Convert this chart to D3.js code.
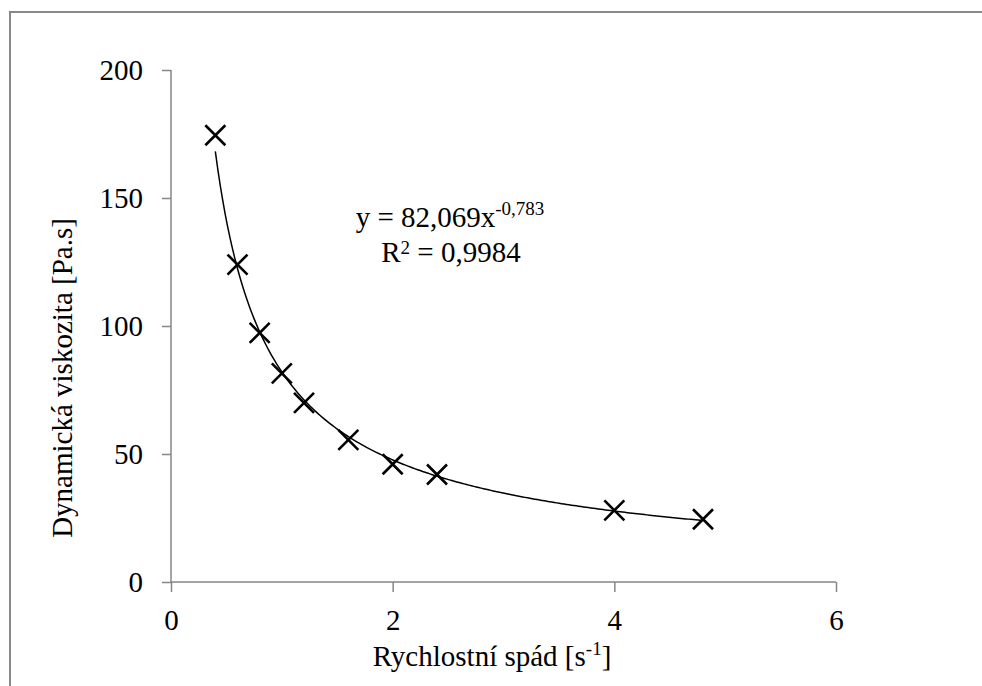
<!DOCTYPE html>
<html lang="cs">
<head>
<meta charset="UTF-8">
<title>Dynamická viskozita</title>
<script src="https://cdnjs.cloudflare.com/ajax/libs/d3/7.8.5/d3.min.js"></script>
<style>
    body { margin: 0; background: #fff; }
    svg { display: block; font-family: "Liberation Serif", "Times New Roman", serif; }
    .axis path, .axis line { stroke: #868686; stroke-width: 1.5px; }
    .title { font-size: 29px; fill: #000; }
    .eq { font-size: 29px; fill: #000; }
</style>
</head>
<body>
<div id="chart"></div>
<script>
    // values
    const shearRate = [0.4, 0.6, 0.8, 1.0, 1.2, 1.6, 2.0, 2.4, 4.0, 4.8];
    const viscosity = [174.5, 124, 97.3, 81.5, 70, 55.5, 46, 42, 28, 24.5];
    const xTicks = [0, 2, 4, 6];
    const yTicks = [0, 50, 100, 150, 200];
    // trendline coefficients printed on the chart
    const fitA = 82.069, fitB = -0.783;

    const W = 982, H = 686;
    const margin = { left: 171, right: 146, top: 70, bottom: 104 };
    const serif = '"Liberation Serif", "Times New Roman", serif';

    const svg = d3.select("#chart").append("svg")
        .attr("width", W).attr("height", H);

    // outer frame (only top and left edges visible)
    svg.append("rect")
        .attr("x", 10).attr("y", 12)
        .attr("width", W + 20).attr("height", H + 20)
        .attr("fill", "none").attr("stroke", "#888").attr("stroke-width", 2);

    const x = d3.scaleLinear().domain([0, 6]).range([margin.left, W - margin.right]);
    const y = d3.scaleLinear().domain([0, 200]).range([H - margin.bottom, margin.top]);

    svg.append("g")
        .attr("class", "axis")
        .attr("transform", `translate(0,${y(0)})`)
        .call(d3.axisBottom(x).tickValues(xTicks).tickFormat(d3.format("d"))
            .tickSize(10).tickPadding(17))
        .call(g => g.select(".domain").attr("d", `M${x(0)},0H${x(6)}`));

    svg.append("g")
        .attr("class", "axis")
        .attr("transform", `translate(${x(0)},0)`)
        .call(d3.axisLeft(y).tickValues(yTicks).tickFormat(d3.format("d"))
            .tickSize(9).tickPadding(19))
        .call(g => g.select(".domain").attr("d", `M0,${y(200)}V${y(0)}`));

    svg.selectAll(".axis")
        .attr("font-family", serif)
        .attr("font-size", 29);
    svg.selectAll(".axis .tick text")
        .style("font-family", serif)
        .style("font-size", "29px")
        .attr("fill", "#000");

    // power trendline
    const x0 = shearRate[0], x1 = shearRate[shearRate.length - 1];
    const curveX = d3.range(0, 201).map(i => x0 + (x1 - x0) * i / 200);
    const line = d3.line().x(d => x(d)).y(d => y(fitA * Math.pow(d, fitB)));
    svg.append("path")
        .datum(curveX)
        .attr("d", line)
        .attr("fill", "none")
        .attr("stroke", "#000")
        .attr("stroke-width", 1.5);

    // X markers
    const r = 10;
    const pts = shearRate.map((v, i) => [v, viscosity[i]]);
    const marks = svg.selectAll(".pt").data(pts).enter().append("g")
        .attr("class", "pt")
        .attr("transform", d => `translate(${x(d[0])},${y(d[1])})`);
    marks.append("path")
        .attr("d", `M${-r},${-r}L${r},${r}M${-r},${r}L${r},${-r}`)
        .attr("stroke", "#000")
        .attr("stroke-width", 2.6)
        .attr("fill", "none");

    // equation
    const eq = svg.append("text").attr("class", "eq")
        .attr("x", 450).attr("y", 227).attr("text-anchor", "middle");
    eq.append("tspan").text("y = 82,069x");
    eq.append("tspan").attr("dy", -12).attr("font-size", 19).text("-0,783");

    const r2 = svg.append("text").attr("class", "eq")
        .attr("x", 451).attr("y", 262).attr("text-anchor", "middle");
    r2.append("tspan").text("R");
    r2.append("tspan").attr("dy", -8).attr("font-size", 19).text("2");
    r2.append("tspan").attr("dy", 8).text(" = 0,9984");

    // axis titles
    const xt = svg.append("text").attr("class", "title")
        .attr("x", 492).attr("y", 666).attr("text-anchor", "middle");
    xt.append("tspan").text("Rychlostní spád [s");
    xt.append("tspan").attr("dy", -11).attr("font-size", 19).text("-1");
    xt.append("tspan").attr("dy", 11).text("]");

    svg.append("text").attr("class", "title")
        .attr("transform", "translate(72,378) rotate(-90)")
        .attr("text-anchor", "middle")
        .attr("font-size", 30)
        .text("Dynamická viskozita  [Pa.s]");
</script>
</body>
</html>
